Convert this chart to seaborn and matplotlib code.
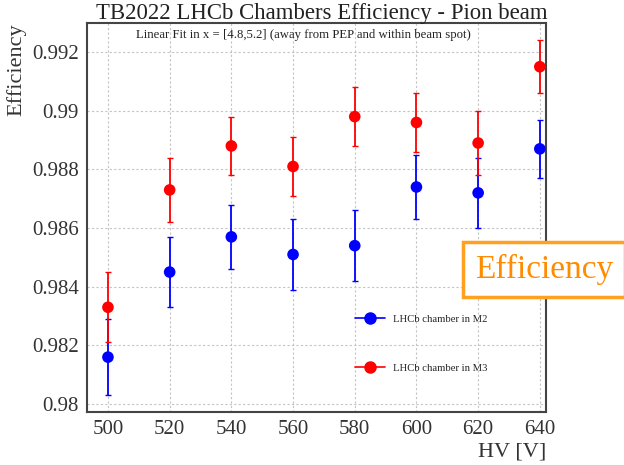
import matplotlib
matplotlib.use("Agg")
import matplotlib.pyplot as plt
from matplotlib.lines import Line2D
from matplotlib.ticker import MultipleLocator
import seaborn as sns
import pandas as pd

hv = [500, 520, 540, 560, 580, 600, 620, 640]
eff_m2 = [0.9816, 0.9845, 0.9857, 0.9851, 0.9854, 0.9874, 0.9872, 0.9887]
err_m2 = [0.0013, 0.0012, 0.0011, 0.0012, 0.0012, 0.0011, 0.0012, 0.0010]
eff_m3 = [0.9833, 0.9873, 0.9888, 0.9881, 0.9898, 0.9896, 0.9889, 0.9915]
err_m3 = [0.0012, 0.0011, 0.0010, 0.0010, 0.0010, 0.0010, 0.0011, 0.0009]
labels = ["LHCb chamber in M2", "LHCb chamber in M3"]
colors = ["#0000ff", "#ff0000"]

df = pd.DataFrame({
    "HV": hv * 2,
    "eff": eff_m2 + eff_m3,
    "err": err_m2 + err_m3,
    "series": [labels[0]] * len(hv) + [labels[1]] * len(hv),
})

sns.set_style("white")
plt.rcParams["font.family"] = ["Liberation Serif", "DejaVu Serif"]

fig = plt.figure(figsize=(6.24, 4.65), dpi=100)
ax = fig.add_axes([0.1394, 0.114, 0.7356, 0.8365])

for lab, col in zip(labels, colors):
    sub = df[df["series"] == lab]
    ax.errorbar(sub["HV"], sub["eff"], yerr=sub["err"], fmt="none",
                ecolor=col, elinewidth=1.3, capsize=2, capthick=1.0, zorder=2)
sns.scatterplot(data=df, x="HV", y="eff", hue="series", palette=colors,
                s=70, edgecolor="none", legend=False, ax=ax, zorder=3)

ax.set_xlim(493.2, 642.0)
ax.set_ylim(0.97973, 0.99299)
ax.xaxis.set_major_locator(MultipleLocator(20))
ax.xaxis.set_minor_locator(MultipleLocator(5))
ax.yaxis.set_major_locator(MultipleLocator(0.002))
ax.yaxis.set_minor_locator(MultipleLocator(0.0004))
ax.yaxis.set_major_formatter(matplotlib.ticker.FuncFormatter(
    lambda v, p: ("%.3f" % v).rstrip("0")))

ax.tick_params(axis="both", which="major", direction="in", length=11,
               width=1.0, labelsize=15, colors="#333333", labelcolor="#333333",
               top=False, right=False, pad=6)
ax.tick_params(axis="both", which="minor", direction="in", length=6,
               width=1.0, colors="#333333", top=False, right=False)
ax.grid(True, which="major", linestyle=(0, (2, 2)), color="#c4c4c4", linewidth=0.8)
for s in ax.spines.values():
    s.set_color("#444444")
    s.set_linewidth(1.5)

ax.set_xlabel("HV [V]", fontsize=16, color="#333333", loc="right", labelpad=2)
ax.set_ylabel("Efficiency", fontsize=16, color="#333333", loc="top", labelpad=4)

fig.text(0.516, 0.972, "TB2022 LHCb Chambers Efficiency - Pion beam",
         ha="center", va="center", fontsize=16.4, color="#222222")
ax.text(0.107, 0.985, "Linear Fit in x = [4.8,5.2] (away from PEP and within beam spot)",
        transform=ax.transAxes, ha="left", va="top", fontsize=9.2, color="#222222")

handles = [Line2D([0], [0], color=c, marker="o", markersize=8, linewidth=1.2)
           for c in colors]
ax.legend(handles, labels, loc="upper left", bbox_to_anchor=(0.574, 0.262),
          frameon=False, fontsize=7.7, labelspacing=3.7, handlelength=2.8,
          handletextpad=0.75, borderaxespad=0)

fig.text(0.761, 0.4204, "Efficiency", ha="left", va="center", fontsize=24,
         color="#ff8c00",
         bbox=dict(boxstyle="square,pad=0.35", facecolor="white",
                   edgecolor="#ffa020", linewidth=2.5))

fig.savefig("out.png", dpi=100)
